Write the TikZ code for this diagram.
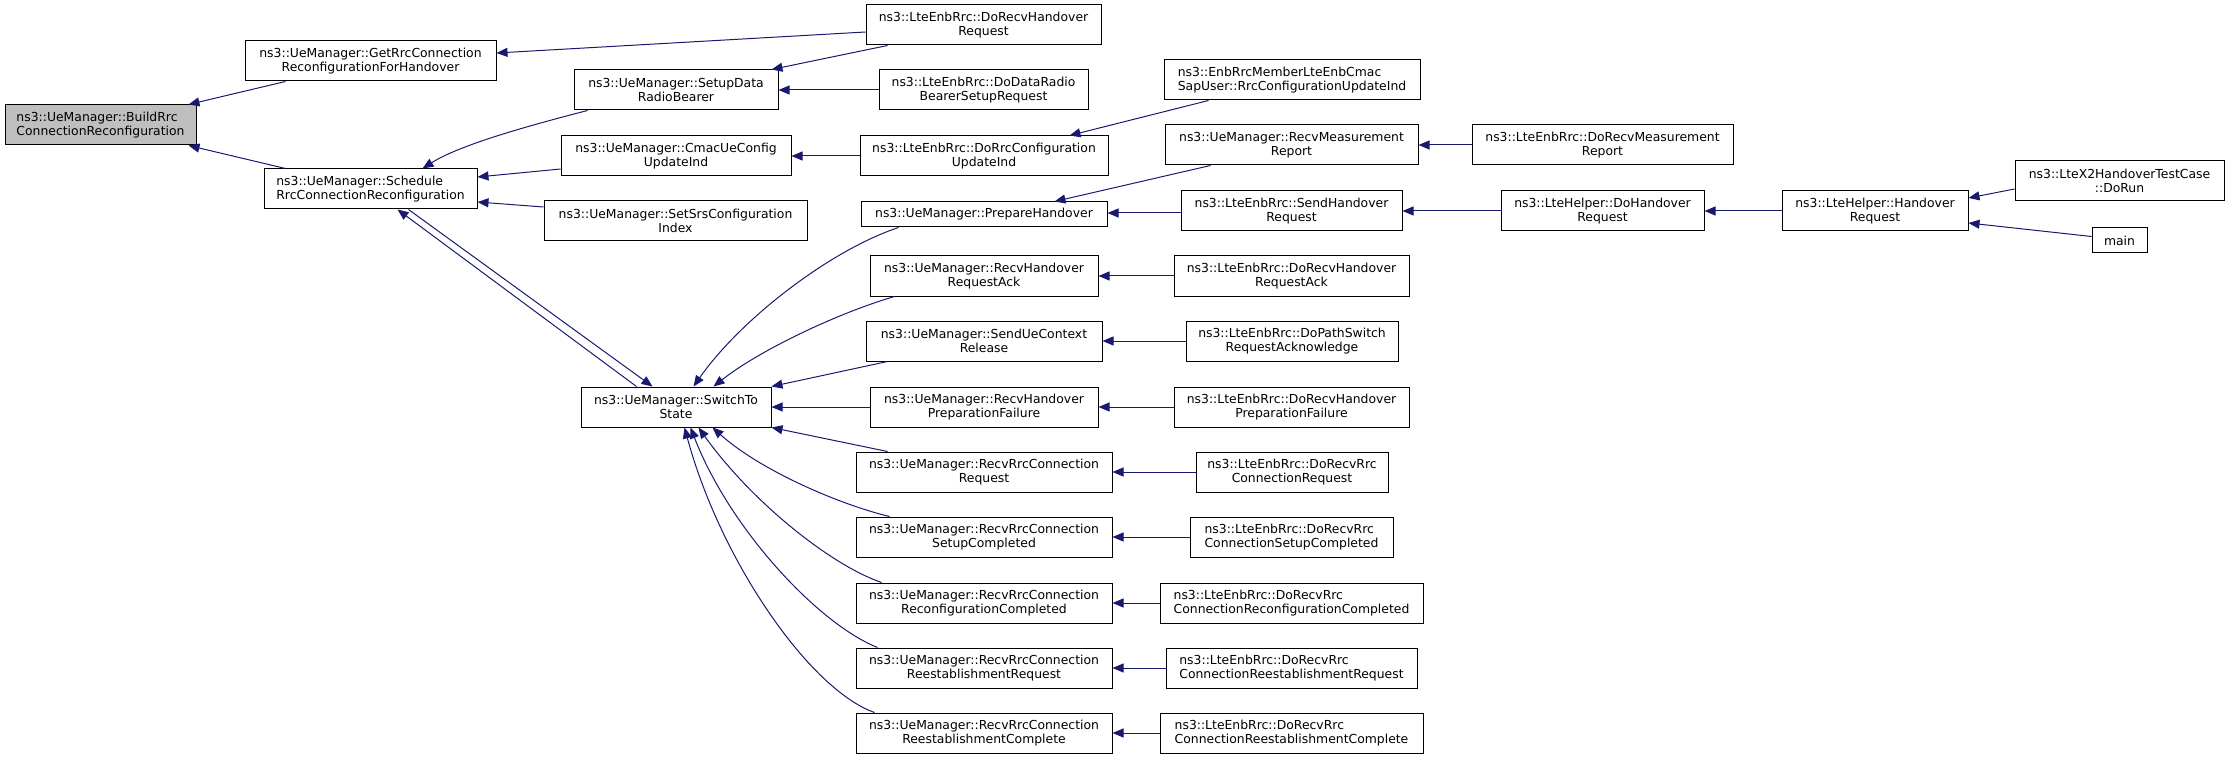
\documentclass[tikz,border=0pt]{standalone}
\usepackage{fontspec}
\setmainfont{DejaVu Sans}
\usetikzlibrary{arrows.meta}
\definecolor{edgeblue}{HTML}{191970}
\definecolor{rootgray}{HTML}{BFBFBF}
\tikzset{
  box/.style={draw=black, line width=1pt, fill=white, rectangle, inner sep=0pt, align=center, font=\fontsize{12.4}{14.5}\selectfont},
  lbox/.style={box, align=left},
  call/.style={draw=edgeblue, line width=1pt, -{Triangle[length=11pt,width=9pt]}, fill=none},
}
\newcommand{\bx}[7]{\node[#1, minimum width={(#5-#3)*1pt}, minimum height={(#6-#4)*1pt}] (#2) at ({(#3+#5)/2}, {-(#4+#6)/2}) {#7};}
\begin{document}
\begin{tikzpicture}[x=1pt,y=1pt]
\useasboundingbox (0,0) rectangle (2229,-759);
% nodes
\bx{lbox, fill=rootgray}{build}{5}{105}{196}{145}{ns3::UeManager::BuildRrc\\ConnectionReconfiguration}
\bx{box}{getrrc}{245}{41}{496}{81}{ns3::UeManager::GetRrcConnection\\ReconfigurationForHandover}
\bx{lbox}{sched}{264}{169}{477}{209}{ns3::UeManager::Schedule\\RrcConnectionReconfiguration}
\bx{box}{dorecvho}{866}{5}{1101}{45}{ns3::LteEnbRrc::DoRecvHandover\\Request}
\bx{box}{setup}{574}{70}{778}{110}{ns3::UeManager::SetupData\\RadioBearer}
\bx{box}{dodata}{879}{70}{1088}{110}{ns3::LteEnbRrc::DoDataRadio\\BearerSetupRequest}
\bx{box}{cmac}{561}{136}{791}{176}{ns3::UeManager::CmacUeConfig\\UpdateInd}
\bx{box}{dorrc}{860}{136}{1108}{176}{ns3::LteEnbRrc::DoRrcConfiguration\\UpdateInd}
\bx{box}{setsrs}{544}{201}{807}{241}{ns3::UeManager::SetSrsConfiguration\\Index}
\bx{box}{prep}{861}{202}{1107}{227}{ns3::UeManager::PrepareHandover}
\bx{lbox}{enbmem}{1164}{60}{1420}{100}{ns3::EnbRrcMemberLteEnbCmac\\SapUser::RrcConfigurationUpdateInd}
\bx{box}{recvmeas}{1165}{125}{1418}{165}{ns3::UeManager::RecvMeasurement\\Report}
\bx{box}{dorecvmeas}{1472}{125}{1733}{165}{ns3::LteEnbRrc::DoRecvMeasurement\\Report}
\bx{box}{sendho}{1181}{191}{1402}{231}{ns3::LteEnbRrc::SendHandover\\Request}
\bx{box}{ltedoho}{1501}{191}{1704}{231}{ns3::LteHelper::DoHandover\\Request}
\bx{box}{ltehoreq}{1782}{191}{1968}{231}{ns3::LteHelper::Handover\\Request}
\bx{box}{x2}{2015}{161}{2224}{201}{ns3::LteX2HandoverTestCase\\::DoRun}
\bx{box}{mainn}{2092}{228}{2147}{253}{main}
\bx{box}{switch}{581}{387}{771}{427}{ns3::UeManager::SwitchTo\\State}
\bx{box}{recvhoack}{870}{256}{1098}{296}{ns3::UeManager::RecvHandover\\RequestAck}
\bx{box}{sendue}{866}{321}{1102}{361}{ns3::UeManager::SendUeContext\\Release}
\bx{box}{recvhopf}{870}{387}{1098}{427}{ns3::UeManager::RecvHandover\\PreparationFailure}
\bx{box}{recvrrcreq}{856}{452}{1112}{492}{ns3::UeManager::RecvRrcConnection\\Request}
\bx{box}{recvsetup}{856}{517}{1112}{557}{ns3::UeManager::RecvRrcConnection\\SetupCompleted}
\bx{box}{recvreconf}{856}{583}{1112}{623}{ns3::UeManager::RecvRrcConnection\\ReconfigurationCompleted}
\bx{box}{recvreestreq}{856}{648}{1112}{688}{ns3::UeManager::RecvRrcConnection\\ReestablishmentRequest}
\bx{box}{recvreestcomp}{856}{713}{1112}{753}{ns3::UeManager::RecvRrcConnection\\ReestablishmentComplete}
\bx{box}{dorecvhoack}{1174}{256}{1409}{296}{ns3::LteEnbRrc::DoRecvHandover\\RequestAck}
\bx{box}{dopath}{1186}{321}{1398}{361}{ns3::LteEnbRrc::DoPathSwitch\\RequestAcknowledge}
\bx{box}{dorecvhopf}{1174}{387}{1409}{427}{ns3::LteEnbRrc::DoRecvHandover\\PreparationFailure}
\bx{box}{dorrcreq}{1196}{452}{1388}{492}{ns3::LteEnbRrc::DoRecvRrc\\ConnectionRequest}
\bx{lbox}{dorrcsetup}{1190}{517}{1393}{557}{ns3::LteEnbRrc::DoRecvRrc\\ConnectionSetupCompleted}
\bx{lbox}{dorrcreconf}{1160}{583}{1423}{623}{ns3::LteEnbRrc::DoRecvRrc\\ConnectionReconfigurationCompleted}
\bx{lbox}{dorrcreestreq}{1166}{648}{1417}{688}{ns3::LteEnbRrc::DoRecvRrc\\ConnectionReestablishmentRequest}
\bx{lbox}{dorrcreestcomp}{1160}{713}{1423}{753}{ns3::LteEnbRrc::DoRecvRrc\\ConnectionReestablishmentComplete}
% edges (caller -> callee)
\draw[call] ([xshift=41pt]getrrc.south west) -- ([xshift=-8pt]build.north east);
\draw[call] ([xshift=22pt]sched.north west) -- ([xshift=-8pt]build.south east);
\draw[call] ([yshift=-7pt]dorecvho.west) -- ([yshift=8pt]getrrc.east);
\draw[call] ([xshift=22pt]dorecvho.south west) -- ([xshift=-7pt]setup.north east);
\draw[call] (dodata.west) -- (setup.east);
\draw[call] ([xshift=14pt]setup.south west) .. controls +(-58,-15) and +(38,24) .. ([xshift=-55pt]sched.north east);
\draw[call] ([yshift=-13pt]cmac.west) -- ([yshift=12pt]sched.east);
\draw[call] ([yshift=14pt]setsrs.west) -- ([yshift=-13pt]sched.east);
\draw[call] (dorrc.west) -- (cmac.east);
\draw[call] ([xshift=45pt]enbmem.south west) -- ([xshift=-39pt]dorrc.north east);
\draw[call] ([xshift=46pt]recvmeas.south west) -- ([xshift=-53pt]prep.north east);
\draw[call] (dorecvmeas.west) -- (recvmeas.east);
\draw[call] ([yshift=-2pt]sendho.west) -- ([yshift=1.5pt]prep.east);
\draw[call] (ltedoho.west) -- (sendho.east);
\draw[call] (ltehoreq.west) -- (ltedoho.east);
\draw[call] ([yshift=-8pt]x2.west) -- ([yshift=13pt]ltehoreq.east);
\draw[call] ([yshift=4pt]mainn.west) -- ([yshift=-12pt]ltehoreq.east);
\draw[call] ([xshift=38pt]prep.south west) .. controls +(-69,-23) and +(47,67) .. ([xshift=-78pt]switch.north east);
\draw[call] ([xshift=25pt]recvhoack.south west) .. controls +(-55,-16) and +(47,37) .. ([xshift=-58pt]switch.north east);
\draw[call] ([xshift=22pt]sendue.south west) -- (switch.north east);
\draw[call] (recvhopf.west) -- (switch.east);
\draw[call] ([xshift=32pt]recvrrcreq.north west) -- (switch.south east);
\draw[call] ([xshift=34pt]recvsetup.north west) .. controls +(-50,12) and +(48,-43) .. ([xshift=-59pt]switch.south east);
\draw[call] ([xshift=26pt]recvreconf.north west) .. controls +(-52,18) and +(52,-73) .. ([xshift=-73pt]switch.south east);
\draw[call] ([xshift=22pt]recvreestreq.north west) .. controls +(-58,23) and +(40,-103) .. ([xshift=-81pt]switch.south east);
\draw[call] ([xshift=19pt]recvreestcomp.north west) .. controls +(-65,23) and +(36,-133) .. ([xshift=-87pt]switch.south east);
\draw[call] ([xshift=56pt]switch.north west) -- ([xshift=134pt]sched.south west);
\draw[call] ([xshift=145pt]sched.south west) -- ([xshift=72pt]switch.north west);
\draw[call] (dorecvhoack.west) -- (recvhoack.east);
\draw[call] (dopath.west) -- (sendue.east);
\draw[call] (dorecvhopf.west) -- (recvhopf.east);
\draw[call] (dorrcreq.west) -- (recvrrcreq.east);
\draw[call] (dorrcsetup.west) -- (recvsetup.east);
\draw[call] (dorrcreconf.west) -- (recvreconf.east);
\draw[call] (dorrcreestreq.west) -- (recvreestreq.east);
\draw[call] (dorrcreestcomp.west) -- (recvreestcomp.east);
\end{tikzpicture}
\end{document}
